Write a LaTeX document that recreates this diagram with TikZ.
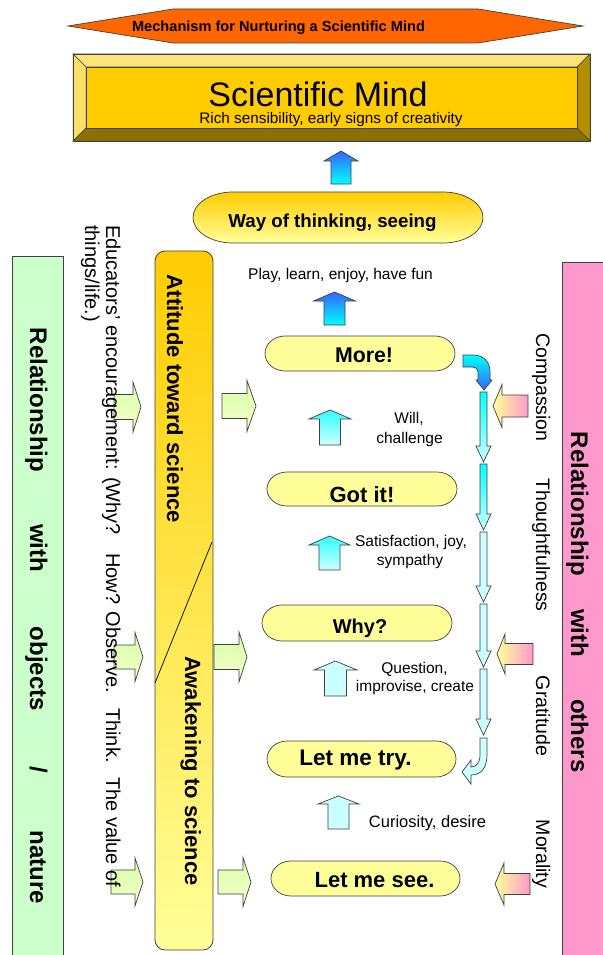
\documentclass[tikz,border=0pt]{standalone}
\usepackage{fontspec}
\setmainfont{Liberation Sans}
\definecolor{orangeB}{HTML}{FF6600}
\definecolor{goldA}{HTML}{FFCC00}
\definecolor{paleY}{HTML}{FFFF99}
\definecolor{bevL}{HTML}{FFE066}
\definecolor{bevT}{HTML}{FFE47A}
\definecolor{bevR}{HTML}{B38F00}
\definecolor{bevB}{HTML}{8C7000}
\definecolor{blueA}{HTML}{3366FF}
\definecolor{cyanA}{HTML}{00FFFF}
\definecolor{cyanB}{HTML}{33FFFF}
\definecolor{paleC}{HTML}{CCFFFF}
\definecolor{greenBox}{HTML}{CCFFCC}
\definecolor{pinkBox}{HTML}{FF99CC}
\definecolor{greenA}{HTML}{D9FFA6}
\definecolor{greenB}{HTML}{F2FFCC}
\definecolor{edge}{HTML}{404040}
\newcommand{\fsz}[1]{\fontsize{#1pt}{#1pt}\selectfont}
% up arrow: cx, tip, headbase, bottom, headhalf, shafthalf, style
\newcommand{\myUp}[7]{\path[#7] ({#1-#6},#4) -- ({#1-#6},#3) -- ({#1-#5},#3) -- (#1,#2) -- ({#1+#5},#3) -- ({#1+#6},#3) -- ({#1+#6},#4) -- cycle;}
% down arrow: cx, top, headbase, tip, headhalf, shafthalf, style
\newcommand{\myDown}[7]{\path[#7] ({#1-#6},#2) -- ({#1+#6},#2) -- ({#1+#6},#3) -- ({#1+#5},#3) -- (#1,#4) -- ({#1-#5},#3) -- ({#1-#6},#3) -- cycle;}
% horizontal arrow: cy, tail x, headbase x, tip x, headhalf, shafthalf, style
\newcommand{\myHoriz}[7]{\path[#7] (#2,{#1-#6}) -- (#3,{#1-#6}) -- (#3,{#1-#5}) -- (#4,#1) -- (#3,{#1+#5}) -- (#3,{#1+#6}) -- (#2,{#1+#6}) -- cycle;}
% capsule path: cx, cy, w, h, a
\newcommand{\capsulepath}[5]{({#1-#3/2+#5},{#2-#4/2}) -- ({#1+#3/2-#5},{#2-#4/2})
  .. controls ({#1+#3/2-#5+0.5523*#5},{#2-#4/2}) and ({#1+#3/2},{#2-0.5523*#4/2}) .. ({#1+#3/2},#2)
  .. controls ({#1+#3/2},{#2+0.5523*#4/2}) and ({#1+#3/2-#5+0.5523*#5},{#2+#4/2}) .. ({#1+#3/2-#5},{#2+#4/2})
  -- ({#1-#3/2+#5},{#2+#4/2})
  .. controls ({#1-#3/2+#5-0.5523*#5},{#2+#4/2}) and ({#1-#3/2},{#2+0.5523*#4/2}) .. ({#1-#3/2},#2)
  .. controls ({#1-#3/2},{#2-0.5523*#4/2}) and ({#1-#3/2+#5-0.5523*#5},{#2-#4/2}) .. ({#1-#3/2+#5},{#2-#4/2}) -- cycle}
\begin{document}
\begin{tikzpicture}[x=1pt,y=-1pt,
  blkedge/.style={draw=edge, line width=0.7pt},
  blueup/.style={blkedge, top color=blueA, bottom color=cyanA},
  cyanup/.style={blkedge, top color=cyanB, bottom color=paleC},
  paleup/.style={blkedge, fill=paleC},
  greenarr/.style={blkedge, top color=greenA, bottom color=greenB},
  pinkarr/.style={blkedge, left color=paleY, right color=pinkBox},
  capsty/.style={blkedge, fill=paleY},
  lbl/.style={inner sep=0pt, anchor=base, font=\fsz{15.5}},
  captxt/.style={inner sep=0pt, anchor=base, font={\bfseries\fsz{22}}},
  vlbl/.style={rotate=-90, inner sep=0pt, anchor=base},
  vlblw/.style={rotate=-90, inner sep=0pt, anchor=base west, font=\fsz{20}}
]
\useasboundingbox (0,0) rectangle (602,955);
\fill[white] (0,0) rectangle (602,955);

% ---- banner
\path[blkedge, fill=orangeB] (68,26) -- (173,9) -- (478,9) -- (583,26) -- (478,43) -- (173,43) -- cycle;
\node[inner sep=0pt, anchor=base, font={\bfseries\fsz{14.6}}] (banner) at (278.5,32) {Mechanism for Nurturing a Scientific Mind};

% ---- Scientific Mind frame
\path[draw=edge, line width=0.5pt, fill=bevT] (73,54) -- (590,54) -- (577,67) -- (86,67) -- cycle;
\path[draw=edge, line width=0.5pt, fill=bevL] (73,54) -- (86,67) -- (86,128) -- (73,141) -- cycle;
\path[draw=edge, line width=0.5pt, fill=bevR] (590,54) -- (590,141) -- (577,128) -- (577,67) -- cycle;
\path[draw=edge, line width=0.5pt, fill=bevB] (73,141) -- (86,128) -- (577,128) -- (590,141) -- cycle;
\node[draw=edge, line width=0.6pt, fill=goldA, minimum width=491pt, minimum height=61pt, anchor=north west, inner sep=0pt] (sminner) at (86,67) {};
\draw[edge, line width=0.8pt] (73,54) rectangle (590,141);
\node[inner sep=0pt, anchor=base, font=\fsz{34}] (smtitle) at (318,106.5) {Scientific Mind};
\node[inner sep=0pt, anchor=base, font=\fsz{15.3}] (smsub) at (331,124) {Rich sensibility, early signs of creativity};

% ---- arrow to scientific mind
\myUp{341}{151}{161}{184}{17}{10}{blueup}

% ---- Way of thinking
\path[blkedge, top color=goldA, bottom color=paleY] \capsulepath{338}{217.5}{290}{51}{40};
\node[inner sep=0pt, anchor=base, font={\bfseries\fsz{18.7}}] (way) at (332.5,227) {Way of thinking, seeing};
\node[lbl] (play) at (340.5,279) {Play, learn, enjoy, have fun};
\myUp{334.5}{292}{301}{325}{21}{10.5}{blueup}

% ---- More!
\path[capsty] \capsulepath{360}{353.5}{190}{35}{20};
\node[captxt, font={\bfseries\fsz{21.3}}] (more) at (364,362.5) {More!};

\myUp{330}{410}{419}{445}{21}{10.5}{cyanup}
\node[lbl] (will) at (409,423) {Will,};
\node[lbl] (chal) at (409.5,443) {challenge};

% ---- Got it!
\path[capsty] \capsulepath{362}{489}{190}{34}{20};
\node[captxt] (gotit) at (362,502) {Got it!};

\myUp{329.5}{536}{545}{570}{20.5}{10.5}{cyanup}
\node[lbl] (satis) at (411,546.5) {Satisfaction, joy,};
\node[lbl] (symp) at (410,565) {sympathy};

% ---- Why?
\path[capsty] \capsulepath{357}{623}{190}{36}{20};
\node[captxt, font={\bfseries\fsz{20}}] (why) at (360,633) {Why?};

\myUp{335.5}{661}{670}{696}{21.5}{11}{paleup}
\node[lbl] (quest) at (414.5,673) {Question,};
\node[lbl] (impr) at (415,691.5) {improvise, create};

% ---- Let me try.
\path[capsty] \capsulepath{361.5}{759}{189}{36}{20};
\node[captxt, font={\bfseries\fsz{22.5}}] (trytxt) at (355.5,765) {Let me try.};

\myUp{338.5}{796}{804}{829}{20.5}{10.5}{paleup}
\node[lbl, font=\fsz{16.5}] (curio) at (427.5,827) {Curiosity, desire};

% ---- Let me see.
\path[capsty] \capsulepath{365.5}{878.5}{189}{35}{20};
\node[captxt] (see) at (374.5,887) {Let me see.};

% ---- right chain
\path[blkedge, top color=cyanA, bottom color=blueA] (463,355) -- (473,355) .. controls (484,355) and (490,362) .. (490,372) -- (490,380) -- (492,380) -- (484,390) -- (476,380) -- (478,380) -- (478,372) .. controls (478,369) and (476,367) .. (473,367) -- (463,367) -- cycle;
\myDown{483.5}{392}{446}{462}{7.5}{3.5}{blkedge, top color=cyanA, bottom color=paleC}
\myDown{483.5}{464}{514}{530}{7.5}{3.5}{blkedge, top color=cyanA, bottom color=paleC}
\myDown{483.5}{532}{586}{602}{7.5}{3.5}{paleup}
\myDown{483.5}{604}{651}{667}{7.5}{3.5}{paleup}
\myDown{483.5}{669}{719}{735}{7.5}{3.5}{paleup}
\path[paleup] (480,738) -- (487,738) -- (487,755) .. controls (487,768) and (481,775) .. (471,775) -- (471,784) -- (462,772) -- (471,760) -- (471,767) .. controls (476,767) and (480,763) .. (480,755) -- cycle;

% ---- side boxes
\path[draw=edge, line width=0.8pt, fill=greenBox] (12,256) rectangle (63,962);
\path[draw=edge, line width=0.8pt, fill=pinkBox] (562,262) rectangle (612,962);
\path[draw=edge, line width=0.8pt, rounded corners=10pt, top color=goldA, bottom color=paleY] (155,251) rectangle (213,950);
\draw[black, line width=0.7pt] (212,542) -- (155,683);

% ---- green arrows
\myHoriz{407}{114}{133}{141}{25}{12.5}{greenarr}
\myHoriz{406}{222}{247}{256}{25.5}{12.5}{greenarr}
\myHoriz{657}{114}{135}{143}{24.5}{12}{greenarr}
\myHoriz{657}{214}{239}{247}{25}{12.5}{greenarr}
\myHoriz{882}{111}{135}{143}{24}{12}{greenarr}
\myHoriz{882}{218}{243}{251}{24.5}{12}{greenarr}

% ---- pink arrows
\myHoriz{406}{528}{502}{493}{21.5}{11}{pinkarr}
\myHoriz{654}{533}{505}{497}{20}{10.5}{pinkarr}
\myHoriz{884}{530}{504}{495}{21}{10.5}{pinkarr}

% ---- vertical texts
\node[vlbl, font={\bfseries\fsz{24}}] (rl1) at (30,400) {Relationship};
\node[vlbl, font={\bfseries\fsz{24}}] (rl2) at (30,548) {with};
\node[vlbl, font={\bfseries\fsz{24}}] (rl3) at (30,669) {objects};
\node[vlbl, font={\bfseries\fsz{24}}] (rl4) at (30,770) {/};
\node[vlbl, font={\bfseries\fsz{24}}] (rl5) at (30,867) {nature};

\node[vlbl, font={\bfseries\fsz{24}}] (rr1) at (571,504) {Relationship};
\node[vlbl, font={\bfseries\fsz{24}}] (rr2) at (571,633) {with};
\node[vlbl, font={\bfseries\fsz{24}}] (rr3) at (571,736) {others};

\node[vlbl, font={\bfseries\fsz{22}}] (att) at (167,399) {Attitude toward science};
\node[vlbl, font={\bfseries\fsz{22}}] (awk) at (185,771) {Awakening to science};

\node[vlbl, font=\fsz{19.5}] (comp) at (536,387.5) {Compassion};
\node[vlbl, font=\fsz{19.5}] (thou) at (536,545) {Thoughtfulness};
\node[vlbl, font=\fsz{19.5}] (grat) at (536,716) {Gratitude};
\node[vlbl, font=\fsz{19.5}] (mora) at (536,854) {Morality};

\node[vlblw] (ed1) at (106,225) {Educators' encouragement: (Why?};
\node[vlblw] (ed2) at (106,553) {How? Observe.};
\node[vlblw] (ed3) at (106,708) {Think.};
\node[vlblw] (ed4) at (106,777) {The value of};
\node[vlblw] (ed5) at (85,225) {things/life.)};
\end{tikzpicture}
\end{document}
